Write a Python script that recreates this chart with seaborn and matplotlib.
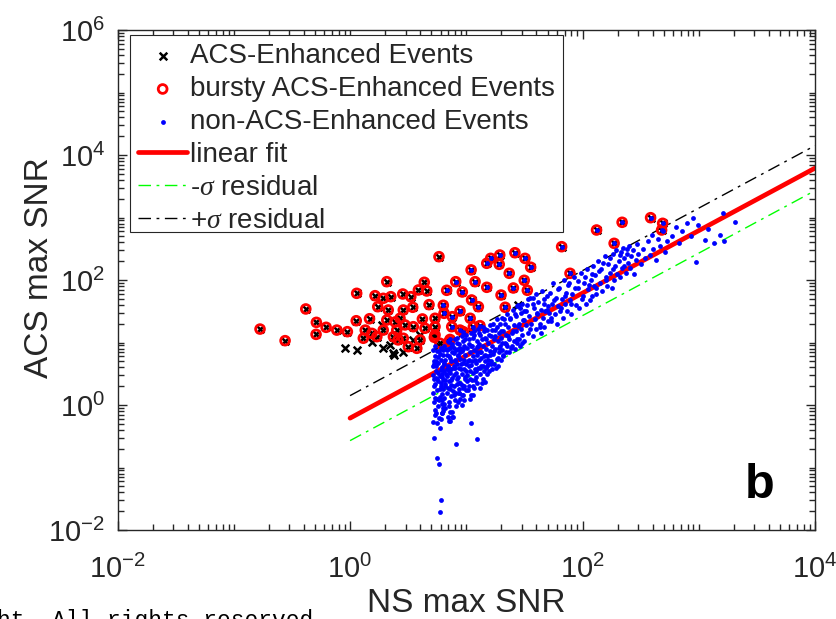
import numpy as np
import pandas as pd
import matplotlib
matplotlib.use("Agg")
import matplotlib.pyplot as plt
import matplotlib.patches as mpatches
import seaborn as sns
from matplotlib.ticker import LogLocator, LogFormatterSciNotation, NullFormatter

# ---------------- data ----------------
# bursty ACS-enhanced events: NS max SNR, ACS max SNR
bursty_ns = [0.168, 0.276, 0.416, 0.513, 0.510, 0.622, 0.769, 0.948, 1.14, 1.13,
             1.47, 1.64, 1.73, 2.07, 2.24, 1.93, 2.84, 3.33, 3.87, 4.35,
             4.57, 5.82, 4.78, 6.34, 6.78, 8.11, 9.24, 11.0, 11.9, 15.0,
             15.0, 16.2, 19.4, 19.2, 23.4, 26.2, 32.0, 35.8, 31.5, 33.5,
             25.4, 19.9, 21.6, 11.1, 12.7, 8.83, 10.8, 13.1, 7.58, 7.49,
             7.24, 6.43, 5.38, 5.38, 5.31, 4.19, 3.50, 3.46, 2.87, 2.69,
             2.52, 2.36, 2.07, 2.13, 1.93, 3.17, 3.75, 1.54, 1.30, 1.70,
             2.87, 4.41, 5.94, 8.83, 11.5, 66.1, 78.0, 132, 187, 219,
             385, 489, 479, 7.10, 9.42, 5.38, 2.44, 2.97, 2.59, 1.35, 4.00]
bursty_acs = [16.4, 10.7, 34.4, 21.0, 13.5, 17.5, 15.8, 14.9, 61.2, 22.3,
              24.0, 56.1, 37.4, 94.0, 54.1, 50.9, 59.7, 54.1, 69.2, 91.9,
              66.7, 236, 40.3, 39.4, 68.4, 94.0, 64.3, 145, 94.0, 76.4,
              185, 222, 251, 178, 128, 273, 222, 160, 98.9, 68.4,
              74.5, 57.5, 36.6, 47.9, 37.4, 31.9, 24.4, 18.6, 25.9, 17.9,
              11.2, 29.3, 24.4, 17.9, 12.1, 23.8, 17.9, 36.6, 33.1, 24.4,
              15.8, 12.4, 22.9, 33.1, 15.8, 8.57, 8.07, 14.0, 11.7, 12.4,
              11.7, 16.9, 9.71, 15.8, 17.9, 341, 128, 631, 386, 838,
              993, 807, 631, 10.3, 14.9, 13.2, 21.3, 19.1, 11.0, 15.8, 11.0]

# other (non-bursty) ACS-enhanced events
plain_ns = [0.906, 1.15, 1.54, 1.93, 2.39, 2.87, 4.00, 3.50, 5.74, 28.0, 1.87, 2.21, 2.36]
plain_acs = [8.07, 7.59, 10.3, 8.07, 6.31, 7.13, 13.2, 11.0, 9.12, 39.8, 19.1, 9.12, 6.72]

# non-ACS-enhanced events, stored as log10(NS max SNR), log10(ACS max SNR)
non_ns_log10 = [
    0.71, 0.72, 0.71, 0.73, 0.72, 0.74, 0.73, 0.74, 0.75, 0.75, 0.76, 0.76, 0.77, 0.77, 0.78,
    0.78, 0.78, 0.79, 0.79, 0.80, 0.80, 0.80, 0.715, 0.745, 0.72, 0.775, 0.75, 0.765, 0.78, 0.775,
    0.79, 0.73, 0.76, 0.74, 0.77, 0.79, 0.755, 0.785, 0.735, 0.765, 0.795, 0.71, 0.725, 0.78, 0.80,
    0.81, 0.81, 0.81, 0.82, 0.82, 0.82, 0.83, 0.83, 0.83, 0.84, 0.84, 0.84, 0.85, 0.85, 0.85,
    0.86, 0.86, 0.86, 0.86, 0.87, 0.87, 0.88, 0.88, 0.88, 0.89, 0.89, 0.89, 0.90, 0.90, 0.90,
    0.805, 0.815, 0.835, 0.845, 0.855, 0.865, 0.875, 0.885, 0.895, 0.88,
    0.91, 0.91, 0.91, 0.92, 0.92, 0.92, 0.93, 0.93, 0.93, 0.94, 0.94, 0.94, 0.95, 0.95,
    0.96, 0.96, 0.96, 0.96, 0.97, 0.97, 0.98, 0.98, 0.98, 0.99, 0.99, 1.00, 1.00, 1.00,
    0.905, 0.915, 0.925, 0.935, 0.945, 0.955, 0.965, 0.975, 0.985, 0.911,
    1.01, 1.01, 1.02, 1.02, 1.02, 1.03, 1.03, 1.04, 1.04, 1.04, 1.05, 1.05, 1.06, 1.06, 1.07, 1.07,
    1.07, 1.08, 1.08, 1.09, 1.09, 1.09, 1.10, 1.10, 1.017, 1.038, 1.089, 1.06, 1.025, 1.055, 1.075, 1.095,
    1.11, 1.11, 1.12, 1.12, 1.12, 1.13, 1.13, 1.14, 1.14, 1.14, 1.15, 1.15, 1.16, 1.16,
    1.161, 1.17, 1.17, 1.18, 1.18, 1.18, 1.19, 1.19, 1.20, 1.20, 1.115, 1.135, 1.165, 1.195,
    1.21, 1.21, 1.22, 1.22, 1.23, 1.23, 1.24, 1.24, 1.25, 1.25, 1.26, 1.26, 1.27, 1.27, 1.28,
    1.28, 1.29, 1.29, 1.30, 1.30, 1.31, 1.31, 1.32, 1.32, 1.33, 1.33, 1.34, 1.34, 1.35, 1.35,
    1.36, 1.37, 1.37, 1.38, 1.39, 1.39, 1.40, 1.41, 1.41, 1.42, 1.43, 1.43,
    1.44, 1.45, 1.45, 1.46, 1.47, 1.47, 1.48, 1.48, 1.49, 1.50, 1.50, 1.44,
    1.51, 1.52, 1.53, 1.54, 1.55, 1.56, 1.57, 1.58, 1.59, 1.60, 1.60, 1.61, 1.62,
    1.63, 1.64, 1.64, 1.65, 1.66, 1.67, 1.67, 1.68, 1.69, 1.70, 1.70, 1.53, 1.57,
    1.71, 1.72, 1.73, 1.74, 1.75, 1.76, 1.77, 1.78, 1.79, 1.80,
    1.81, 1.82, 1.83, 1.84, 1.85, 1.86, 1.87, 1.88, 1.89, 1.90,
    1.91, 1.93, 1.94, 1.96, 1.97, 1.99, 2.00, 2.01, 2.03, 2.04, 2.05, 2.06, 2.07, 2.08, 2.09, 2.10,
    2.11, 2.12, 2.13, 2.15, 2.16, 2.17, 2.19, 2.20, 2.21, 2.22, 2.24, 2.25, 2.26, 2.27, 2.28, 2.29,
    2.31, 2.32, 2.33, 2.34, 2.35, 2.36, 2.37, 2.38, 2.39, 2.40,
    2.41, 2.42, 2.43, 2.44, 2.46, 2.47, 2.48, 2.50, 2.52, 2.54,
    2.56, 2.58, 2.60, 2.61, 2.63, 2.65, 2.67, 2.69, 2.71, 2.73,
    2.77, 2.80, 2.83, 2.86, 2.90, 2.93, 2.98, 2.99, 3.05, 3.08, 3.13, 3.18, 3.21, 3.22, 3.31, 2.95,
    0.788, 0.731, 0.802, 0.860, 0.883, 0.854, 0.94, 0.974,
    0.712, 0.728, 0.742, 0.757, 0.768, 0.783, 0.797, 0.808, 0.822, 0.838, 0.852, 0.867, 0.879, 0.893,
    0.907, 0.921, 0.936, 0.949, 0.963, 0.978, 0.992, 1.006, 1.021, 1.034, 1.049, 1.063, 1.078, 1.092,
    1.107, 1.121, 1.136, 1.149, 1.163, 1.178, 1.192, 1.207, 1.223, 1.238, 1.252, 1.267, 1.283, 1.297,
    1.312, 1.327, 1.342, 1.358, 1.373, 1.388, 1.404, 1.418, 1.433, 1.448, 1.463, 1.478, 1.493,
    0.718, 0.722, 0.738, 0.748, 0.752, 0.762, 0.772, 0.788, 0.792, 0.812,
    0.818, 0.828, 0.842, 0.848, 0.862, 0.872, 0.892, 0.898, 0.918, 0.928,
    0.942, 0.958, 0.968, 0.982, 0.996, 1.012, 1.028, 1.044, 1.058, 1.072,
    1.086, 1.104, 1.126, 1.144, 1.172, 1.186, 1.214, 1.244, 1.274, 1.304,
    1.515, 1.545, 1.575, 1.605, 1.635, 1.665, 1.695, 1.725, 1.755, 1.785,
    1.815, 1.845, 1.875, 1.905, 1.935, 1.965, 1.995, 2.025, 2.055, 2.085,
    2.115, 2.145, 2.175, 2.205, 2.235, 2.265, 2.295, 2.325, 2.355, 2.385,
]
non_acs_log10 = [
    0.62, 0.41, 0.20, 0.78, 0.05, -0.12, 0.33, 0.55, 0.87, 0.24, 0.68, -0.02, 0.47, 0.13, 0.92,
    0.30, -0.22, 0.61, 0.02, 0.80, 0.40, -0.10, -0.27, -0.29, -0.52, -0.37, -0.84, -0.95, -1.52, -1.71,
    -0.13, 0.95, 0.38, 0.70, 0.82, 0.18, 0.52, 0.72, 0.12, 0.08, 0.45, 0.48, 0.66, 0.56, 0.25,
    0.95, 0.55, 0.12, 0.72, 0.33, -0.05, 0.88, 0.47, 0.20, 1.02, 0.63, -0.19, 0.78, 0.38, 0.05,
    0.92, 0.52, 0.26, -0.25, 0.70, 0.14, 0.98, 0.44, -0.11, 0.83, 0.60, 0.30, 1.05, 0.72, 0.08,
    0.65, 0.30, 0.58, 0.90, 0.60, 0.40, 0.85, 0.22, 0.48, -0.19,
    0.88, 0.52, 0.19, 1.08, 0.66, 0.34, 0.80, 0.45, 0.05, 0.97, 0.60, 0.19, 0.74, 0.36,
    1.10, 0.87, 0.50, 0.16, 0.68, 0.28, 0.95, 0.58, 0.08, 0.80, 0.42, 1.12, 0.65, 0.24,
    0.70, -0.02, 0.90, 0.25, 0.85, 0.57, 0.32, 1.02, 0.45, -0.62,
    0.92, 0.48, 1.05, 0.72, 0.30, 0.85, 0.55, 1.15, 0.64, 0.16, 0.95, 0.40, 0.78, 0.52, 1.18, 0.88,
    0.28, 0.68, 0.45, 1.02, 0.80, 0.35, 1.22, 0.60, 0.24, -0.28, -0.54, 0.16, 0.62, 1.08, 0.58, 0.93,
    0.98, 0.72, 1.12, 0.50, 0.27, 0.85, 0.62, 1.25, 0.95, 0.42, 0.78, 0.55, 1.08, 0.70,
    0.373, 0.90, 0.60, 1.20, 0.78, 0.50, 1.00, 0.66, 1.28, 0.86, 0.85, 1.05, 1.22, 0.55,
    1.10, 0.70, 0.95, 0.58, 1.30, 0.82, 1.05, 0.66, 1.20, 0.90, 0.74, 1.38, 1.02, 0.62, 1.15,
    0.85, 1.30, 0.95, 0.72, 1.08, 1.40, 0.88, 1.18, 0.78, 1.00, 1.30, 0.85, 1.12, 1.45, 0.95,
    1.25, 1.05, 0.85, 1.38, 1.15, 0.95, 1.52, 1.28, 1.02, 0.90, 1.42, 1.18,
    1.58, 1.30, 1.05, 0.95, 1.48, 1.22, 1.62, 1.12, 1.36, 1.02, 1.50, 0.99,
    1.28, 1.60, 1.15, 1.42, 1.72, 1.30, 1.10, 1.55, 1.38, 1.78, 1.22, 1.48, 1.65,
    1.30, 1.15, 1.52, 1.82, 1.40, 1.62, 1.25, 1.50, 1.75, 1.35, 1.58, 1.70, 1.72,
    1.48, 1.80, 1.35, 1.62, 1.95, 1.45, 1.72, 1.30, 1.58, 1.88,
    1.50, 1.70, 1.40, 2.00, 1.62, 1.80, 1.50, 1.95, 1.68, 1.45,
    1.78, 2.05, 1.60, 1.88, 1.55, 2.12, 1.75, 1.95, 1.62, 2.18, 1.85, 1.68, 2.00, 1.75, 2.22, 1.90,
    2.08, 1.78, 2.30, 1.95, 2.18, 1.82, 2.38, 2.05, 1.90, 2.25, 2.12, 1.88, 2.42, 2.00, 2.22, 2.48,
    2.30, 2.05, 2.45, 2.20, 2.52, 2.35, 2.12, 2.42, 2.28, 2.55,
    2.20, 2.38, 2.48, 2.10, 2.32, 2.58, 2.42, 2.25, 2.50, 2.36,
    2.62, 2.40, 2.72, 2.50, 2.32, 2.65, 2.55, 2.78, 2.45, 2.62,
    2.70, 2.85, 2.60, 2.78, 2.92, 2.70, 2.29, 2.88, 2.64, 2.82, 2.59, 2.72, 3.08, 2.62, 2.93, 3.00,
    -0.133, -0.16, -0.053, -0.107, -0.187, -0.251, 0.187, 0.16,
    0.88, -0.08, 0.43, 0.77, -0.20, 0.35, 0.88, 0.02, 0.50, 0.80, -0.02, 0.58, 0.95, 0.16,
    0.60, 1.00, 0.35, 0.92, 0.00, 0.72, 1.06, 0.38, 0.98, 0.10, 0.70, 1.12, 0.40, 0.85,
    1.15, 0.60, 0.35, 1.18, 0.80, 0.62, 1.12, 0.80, 1.20, 0.86, 0.60, 1.25, 0.92, 1.18,
    0.80, 1.38, 0.98, 1.10, 1.40, 0.92, 1.18, 1.45, 1.05, 1.26, 1.55, 1.00, 1.36,
    0.30, 0.70, 0.62, 0.10, 0.42, 0.86, 0.25, 0.50, 0.08, 0.68,
    0.40, 0.90, 0.28, 0.54, 0.75, 0.32, 0.62, 0.92, 0.42, 0.78,
    0.10, 0.66, 0.90, 0.30, 0.55, 0.70, 0.42, 0.95, 0.30, 0.72,
    0.55, 0.95, 0.76, 0.62, 1.05, 0.72, 0.65, 1.10, 0.75, 1.00,
    1.50, 1.22, 1.62, 1.45, 1.25, 1.70, 1.52, 1.40, 1.68, 1.85,
    1.55, 1.75, 1.92, 1.62, 1.88, 1.98, 1.70, 2.05, 1.92, 2.10,
    1.88, 2.15, 2.28, 2.00, 2.35, 2.18, 2.10, 2.40, 2.22, 2.50,
]

# linear fit in log-log space and its residual scatter (log10 units)
fit_slope = 1.0
fit_intercept = -0.21
resid_sigma = 0.36
fit_ns_range = [1.0, 1.0e4]
blue_ns_threshold = 6.0   # enhanced events above this NS SNR also appear in the blue set

labels = ["ACS-Enhanced Events", "bursty ACS-Enhanced Events", "non-ACS-Enhanced Events",
          "linear fit", r"-$\sigma$ residual", r"+$\sigma$ residual"]
x_label = "NS max SNR"
y_label = "ACS max SNR"
panel_label = "b"
footer_text = "ht. All rights reserved."

# ---------------- styling ----------------
sns.set_theme(style="white")
plt.rcParams["font.family"] = ["Liberation Sans", "DejaVu Sans"]
plt.rcParams["mathtext.fontset"] = "custom"
plt.rcParams["mathtext.rm"] = "Liberation Sans"
plt.rcParams["mathtext.it"] = "Liberation Serif:italic"
plt.rcParams["mathtext.bf"] = "Liberation Sans:bold"
plt.rcParams["axes.unicode_minus"] = False
TXT = "#262626"

events = pd.DataFrame({"ns": bursty_ns + plain_ns, "acs": bursty_acs + plain_acs})
bursty = pd.DataFrame({"ns": bursty_ns, "acs": bursty_acs})
non = pd.DataFrame({"ns": 10 ** np.array(non_ns_log10), "acs": 10 ** np.array(non_acs_log10)})
non = pd.concat([non, events[events["ns"] > blue_ns_threshold]], ignore_index=True)

fit = pd.DataFrame({"ns": fit_ns_range})
logfit = fit_intercept + fit_slope * np.log10(fit["ns"])
fit["fit"] = 10 ** logfit
fit["lo"] = 10 ** (logfit - resid_sigma)
fit["hi"] = 10 ** (logfit + resid_sigma)

fig = plt.figure(figsize=(8.37, 6.19), dpi=100)
ax = fig.add_axes([117.6 / 837, 89 / 619, 697.4 / 837, 500 / 619])
ax.set_xscale("log")
ax.set_yscale("log")

dashdot = (0, (9, 4, 2, 4))
sns.lineplot(data=fit, x="ns", y="fit", color="red", lw=3.4, ax=ax, zorder=2,
             label=labels[3], estimator=None, sort=False)
sns.lineplot(data=fit, x="ns", y="lo", color=(0, 1, 0), lw=1.0, linestyle=dashdot, ax=ax,
             zorder=2, label=labels[4], estimator=None, sort=False)
sns.lineplot(data=fit, x="ns", y="hi", color="black", lw=1.0, linestyle=dashdot, ax=ax,
             zorder=2, label=labels[5], estimator=None, sort=False)
sns.scatterplot(data=events, x="ns", y="acs", marker="x", color="black", s=30,
                linewidth=1.8, ax=ax, zorder=3, label=labels[0])
sns.scatterplot(data=bursty, x="ns", y="acs", marker="o", facecolor="none", edgecolor="red",
                s=40, linewidth=2.0, ax=ax, zorder=4, label=labels[1])
sns.scatterplot(data=non, x="ns", y="acs", marker="o", color="blue", s=12, linewidth=0,
                ax=ax, zorder=5, label=labels[2])

ax.set_xlim(1e-2, 1e4)
ax.set_ylim(1e-2, 1e6)
ax.set_autoscale_on(False)
for axis in (ax.xaxis, ax.yaxis):
    axis.set_major_locator(LogLocator(base=100.0, numticks=20))
    axis.set_minor_locator(LogLocator(base=10.0, subs=np.arange(1, 10), numticks=100))
    axis.set_major_formatter(LogFormatterSciNotation(base=10))
    axis.set_minor_formatter(NullFormatter())
ax.tick_params(which="both", direction="in", bottom=True, left=True, top=True, right=True,
               color=TXT, labelcolor=TXT, labelsize=21)
ax.tick_params(which="major", length=6.5, width=1.0)
ax.tick_params(which="minor", length=4, width=1.0)
ax.tick_params(axis="x", which="major", pad=18)
ax.tick_params(axis="y", which="major", pad=9)
for sp in ax.spines.values():
    sp.set_color(TXT)
    sp.set_linewidth(1.0)

ax.set_xlabel(x_label, fontsize=24, color=TXT)
ax.set_ylabel(y_label, fontsize=24, color=TXT)
ax.xaxis.set_label_coords(0.5, -0.116)
ax.yaxis.set_label_coords(-0.09, 0.525)

handles, labs = ax.get_legend_handles_labels()
hmap = dict(zip(labs, handles))
leg = ax.legend([hmap[l] for l in labels], labels, loc="upper left",
                bbox_to_anchor=(0.0178, 0.99), borderaxespad=0, frameon=False,
                fontsize=20, handlelength=1.75, handletextpad=0.1, labelspacing=0.25,
                borderpad=0.3, scatterpoints=1)
leg.set_zorder(10)
for t in leg.get_texts():
    t.set_color(TXT)

# legend frame: the legend box extent, trimmed of the extra depth below the sigma labels
fig.canvas.draw()
lb = leg.get_window_extent(fig.canvas.get_renderer()).transformed(ax.transAxes.inverted())
trim = 10 / 500  # pixels -> axes fraction
frame = mpatches.Rectangle((lb.x0, lb.y0 + trim), lb.width, lb.height - trim,
                           transform=ax.transAxes, facecolor="white", edgecolor=TXT,
                           linewidth=0.8, zorder=9, clip_on=False)
ax.add_patch(frame)

ax.text(0.921, 0.064, panel_label, transform=ax.transAxes, fontsize=35,
        fontweight="bold", ha="center", va="baseline", color="black")

fig.text(-0.004, -0.0135, footer_text, fontsize=16.5, family="Liberation Mono",
         color="black", ha="left", va="baseline")

fig.savefig("out.png", dpi=100)
